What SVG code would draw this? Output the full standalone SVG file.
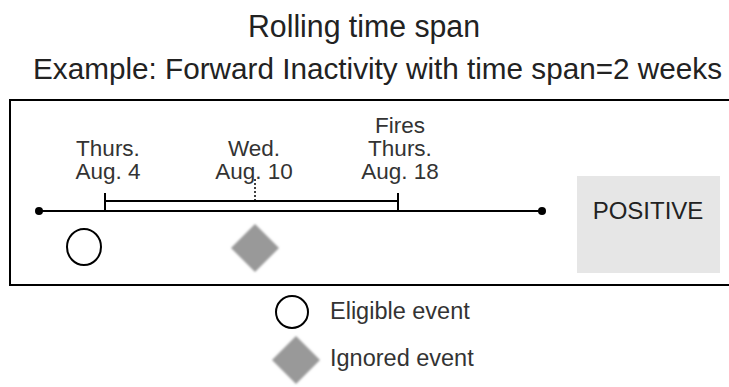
<svg xmlns="http://www.w3.org/2000/svg" width="729" height="387" viewBox="0 0 729 387">
<style>
text{font-family:"Liberation Sans",Arial,sans-serif;fill:#222}
.lbl{font-size:22.5px;text-anchor:middle;fill:#333}
.leg{font-size:23.5px;fill:#333}
.ln{stroke:#000;stroke-width:2;fill:none}
.dia{fill:#999}
.evt{fill:#fff;stroke:#000;stroke-width:2}
</style>
<defs>
<filter id="blur" x="-20%" y="-20%" width="140%" height="140%"><feGaussianBlur stdDeviation="1"/></filter>
</defs>
<text x="248" y="37" font-size="31" fill="#111" textLength="232" lengthAdjust="spacingAndGlyphs">Rolling time span</text>
<text x="33" y="79" font-size="29" fill="#111" textLength="689" lengthAdjust="spacingAndGlyphs">Example: Forward Inactivity with time span=2 weeks</text>
<rect x="10" y="100" width="730" height="185" fill="#fff" stroke="#000" stroke-width="2"/>
<g id="connectors">
<line class="ln" x1="39" y1="211" x2="542" y2="211"/>
<circle cx="39" cy="211" r="4" fill="#000"/>
<circle cx="542" cy="211" r="4" fill="#000"/>
<line class="ln" x1="105" y1="201" x2="398" y2="201"/>
<line class="ln" x1="105" y1="193" x2="105" y2="211"/>
<line class="ln" x1="398" y1="193" x2="398" y2="211"/>
<line x1="255" y1="179" x2="255" y2="201" stroke="#000" stroke-width="1.5" stroke-dasharray="2,2"/>
</g>
<g id="label-aug4">
<text class="lbl" x="108" y="156">Thurs.</text>
<text class="lbl" x="108" y="179">Aug. 4</text>
</g>
<g id="label-aug10">
<text class="lbl" x="254" y="156">Wed.</text>
<text class="lbl" x="254" y="179">Aug. 10</text>
</g>
<g id="label-aug18">
<text class="lbl" x="400" y="133">Fires</text>
<text class="lbl" x="400" y="156">Thurs.</text>
<text class="lbl" x="400" y="179">Aug. 18</text>
</g>
<g id="event-eligible">
<ellipse class="evt" cx="84" cy="247" rx="17" ry="18"/>
</g>
<g id="event-ignored">
<polygon class="dia" filter="url(#blur)" points="255,224 279,248 255,272 231,248"/>
</g>
<g id="positive">
<rect x="577" y="176" width="143" height="97" fill="#e6e6e6"/>
<text x="648" y="219" font-size="24" text-anchor="middle" fill="#333">POSITIVE</text>
</g>
<g id="legend-eligible">
<ellipse class="evt" cx="292" cy="312" rx="16" ry="16"/>
<text class="leg" x="330" y="319">Eligible event</text>
</g>
<g id="legend-ignored">
<polygon class="dia" filter="url(#blur)" points="296,336 320,360 296,384 272,360"/>
<text class="leg" x="330" y="366">Ignored event</text>
</g>
</svg>
